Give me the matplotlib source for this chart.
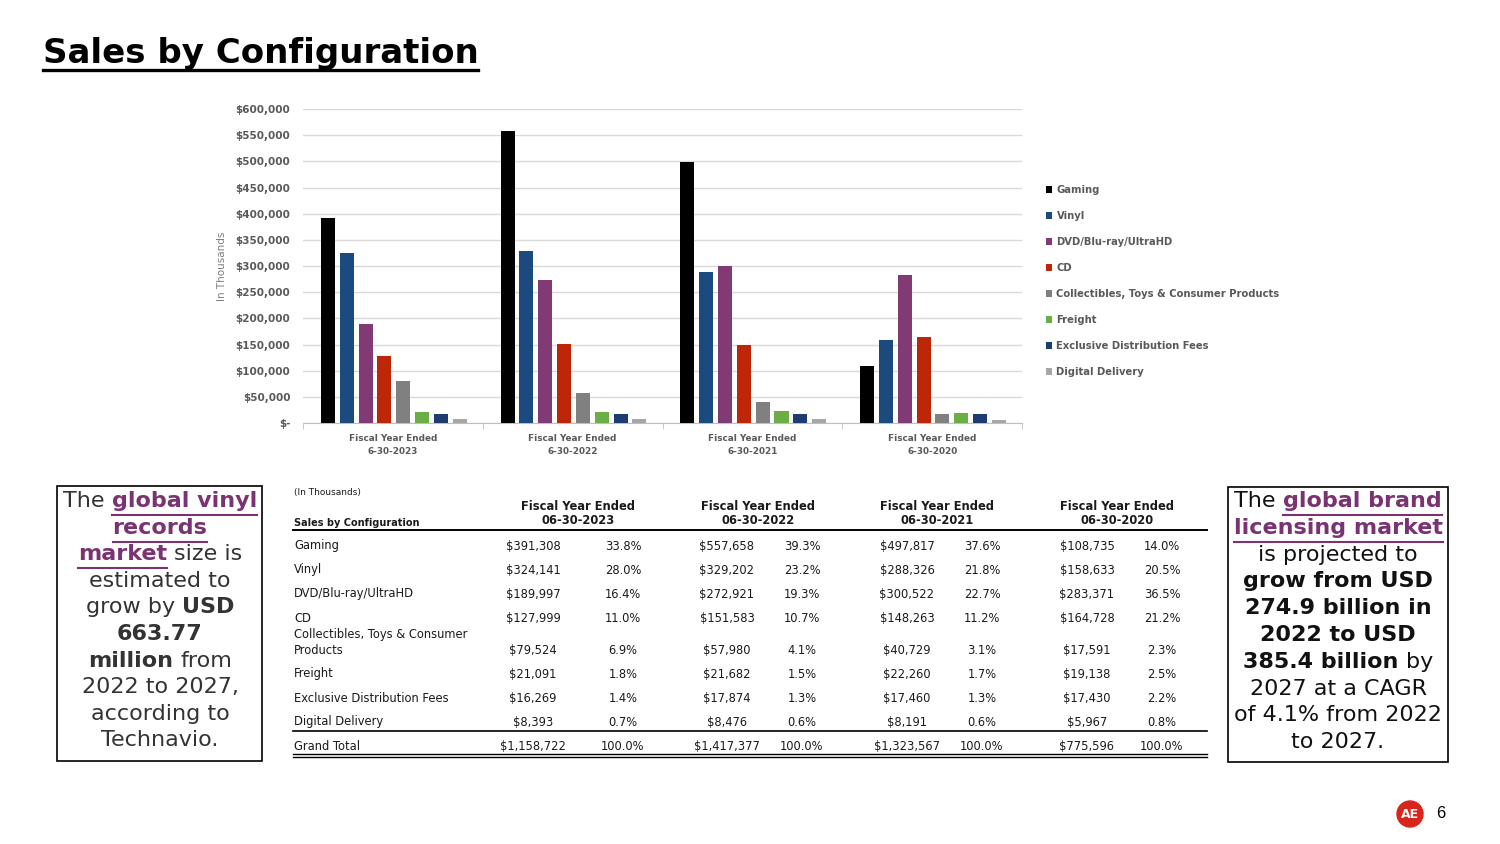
import matplotlib
matplotlib.use('Agg')
import matplotlib.pyplot as plt
from matplotlib.lines import Line2D
from matplotlib.patches import Rectangle, Ellipse
import numpy as np

plt.rcParams['font.family'] = ['DejaVu Sans']

W, H = 1500, 844

# ---- data ----
years = ['2023', '2022', '2021', '2020']
categories = ['Gaming', 'Vinyl', 'DVD/Blu-ray/UltraHD', 'CD',
              'Collectibles, Toys & Consumer Products', 'Freight',
              'Exclusive Distribution Fees', 'Digital Delivery']
sales_2023 = [391308, 324141, 189997, 127999, 79524, 21091, 16269, 8393]
sales_2022 = [557658, 329202, 272921, 151583, 57980, 21682, 17874, 8476]
sales_2021 = [497817, 288326, 300522, 148263, 40729, 22260, 17460, 8191]
sales_2020 = [108735, 158633, 283371, 164728, 17591, 19138, 17430, 5967]
pct_2023 = ['33.8%', '28.0%', '16.4%', '11.0%', '6.9%', '1.8%', '1.4%', '0.7%']
pct_2022 = ['39.3%', '23.2%', '19.3%', '10.7%', '4.1%', '1.5%', '1.3%', '0.6%']
pct_2021 = ['37.6%', '21.8%', '22.7%', '11.2%', '3.1%', '1.7%', '1.3%', '0.6%']
pct_2020 = ['14.0%', '20.5%', '36.5%', '21.2%', '2.3%', '2.5%', '2.2%', '0.8%']
totals = [1158722, 1417377, 1323567, 775596]
colors = ['#000000', '#1b4a7e', '#823a75', '#be2608', '#808080',
          '#6cae46', '#1f3c72', '#a6a6a6']

sales = [sales_2023, sales_2022, sales_2021, sales_2020]
pcts = [pct_2023, pct_2022, pct_2021, pct_2020]

purple = '#7a3372'
dark = '#333333'


def fx(x):
    return x / W


def fy(y):
    return 1 - y / H


fig = plt.figure(figsize=(15, 8.44), dpi=100)
fig.patch.set_facecolor('white')

# ---- title ----
fig.text(fx(43), fy(63), 'Sales by Configuration', fontsize=24.5, fontweight='bold',
         color='black', va='baseline', ha='left')
fig.add_artist(Line2D([fx(43), fx(478)], [fy(70), fy(70)], color='black', lw=2.4))

# ---- bar chart ----
ax = fig.add_axes([fx(303), fy(423), fx(1022) - fx(303), (423 - 109) / H])
x = np.arange(len(years))
pitch = 0.1047
width = 0.078
bars = []
for j, cat in enumerate(categories):
    vals = [s[j] for s in sales]
    b = ax.bar(x + (j - 3.5) * pitch + 0.005, vals, width=width, color=colors[j], label=cat, zorder=3)
    bars.append(b)

ax.set_xlim(-0.5, 3.5)
ax.set_ylim(0, 600000)
yt = np.arange(0, 600001, 50000)
ax.set_yticks(yt)
ax.set_yticklabels(['$-' if v == 0 else '${:,.0f}'.format(v) for v in yt],
                   fontsize=7.5, fontweight='bold', color='#595959')
ax.tick_params(axis='y', length=0, pad=9)
ax.grid(axis='y', color='#d9d9d9', lw=1, zorder=0)
ax.set_xticks(x)
ax.set_xticklabels(['Fiscal Year Ended\n6-30-' + y for y in years], fontsize=6.4,
                   fontweight='bold', color='#595959', linespacing=1.5)
ax.tick_params(axis='x', length=0, pad=8)
ax.set_xticks(np.arange(-0.5, 4, 1), minor=True)
ax.tick_params(axis='x', which='minor', length=4, color='#bfbfbf')
for s in ['top', 'right', 'left']:
    ax.spines[s].set_visible(False)
ax.spines['bottom'].set_color('#bfbfbf')

fig.text(fx(222), fy(266), 'In Thousands', rotation=90, fontsize=7.5, color='#7f7f7f',
         va='center', ha='center')

ax.legend(handles=bars, loc='upper left', bbox_to_anchor=(fx(1046), fy(185)),
          bbox_transform=fig.transFigure, frameon=False,
          prop={'size': 7.2, 'weight': 'bold'}, labelcolor='#595959',
          handlelength=0.6, handleheight=0.6, handletextpad=0.45,
          labelspacing=1.6, borderaxespad=0, borderpad=0)

# ---- table ----
tc = '#1a1a1a'
val_x = [533, 727, 907, 1087]
pct_x = [623, 802, 982, 1162]
head_x = [578, 758, 937, 1117]
row_y = [546, 570, 594, 618, 650, 674, 698, 722]
fs = 8.3

fig.text(fx(294), fy(493), '(In Thousands)', fontsize=6.5, color=tc, va='center')
fig.text(fx(294), fy(523), 'Sales by Configuration', fontsize=7, fontweight='bold', color=tc, va='center')
for k, yr in enumerate(years):
    fig.text(fx(head_x[k]), fy(514), 'Fiscal Year Ended\n06-30-' + yr, fontsize=8.3,
             fontweight='bold', color=tc, ha='center', va='center', linespacing=1.1)
for i, cat in enumerate(categories):
    label = cat
    ly = row_y[i]
    if cat.startswith('Collectibles'):
        label = 'Collectibles, Toys & Consumer\nProducts'
        ly = 642.5
    fig.text(fx(294), fy(ly), label, fontsize=fs, color=tc, va='center', linespacing=1.25)
    for k in range(4):
        fig.text(fx(val_x[k]), fy(row_y[i]), '${:,.0f}'.format(sales[k][i]), fontsize=fs,
                 color=tc, ha='center', va='center')
        fig.text(fx(pct_x[k]), fy(row_y[i]), pcts[k][i], fontsize=fs,
                 color=tc, ha='center', va='center')
fig.text(fx(294), fy(746), 'Grand Total', fontsize=fs, color=tc, va='center')
for k in range(4):
    fig.text(fx(val_x[k]), fy(746), '${:,.0f}'.format(totals[k]), fontsize=fs,
             color=tc, ha='center', va='center')
    fig.text(fx(pct_x[k]), fy(746), '100.0%', fontsize=fs, color=tc, ha='center', va='center')

for yy, lw in [(530, 1.4), (731, 1.2), (754, 1.0), (757, 1.0)]:
    fig.add_artist(Line2D([fx(293), fx(1207)], [fy(yy), fy(yy)], color='black', lw=lw))

# ---- side boxes ----
renderer = fig.canvas.get_renderer()


def text_width(s, size, weight):
    t = fig.text(0, 0, s, fontsize=size, fontweight=weight)
    w = t.get_window_extent(renderer).width
    t.remove()
    return w


def rich_line(xc, yb, parts, size, base_color):
    items = []
    for s, style in parts:
        weight = 'bold' if style in ('link', 'bold') else 'normal'
        color = purple if style == 'link' else base_color
        t = fig.text(0, fy(yb), s, fontsize=size, fontweight=weight, color=color,
                     va='baseline', ha='left')
        items.append((t, style, t.get_window_extent(renderer).width, weight))
    gap = text_width('a a', size, 'normal') - text_width('aa', size, 'normal')
    total = sum(it[2] for it in items) + gap * (len(items) - 1)
    xx = xc - total / 2
    for t, style, w, weight in items:
        t.set_x(fx(xx))
        if style == 'link':
            fig.add_artist(Line2D([fx(xx), fx(xx + w)], [fy(yb + 8), fy(yb + 8)],
                                  color=purple, lw=1.5))
        xx += w + gap


left_lines = [
    [('The', 'n'), ('global vinyl', 'link')],
    [('records', 'link')],
    [('market', 'link'), ('size is', 'n')],
    [('estimated to', 'n')],
    [('grow by', 'n'), ('USD', 'bold')],
    [('663.77', 'bold')],
    [('million', 'bold'), ('from', 'n')],
    [('2022 to 2027,', 'n')],
    [('according to', 'n')],
    [('Technavio.', 'n')],
]
right_lines = [
    [('The', 'n'), ('global brand', 'link')],
    [('licensing market', 'link')],
    [('is projected to', 'n')],
    [('grow from USD', 'bold')],
    [('274.9 billion in', 'bold')],
    [('2022 to USD', 'bold')],
    [('385.4 billion', 'bold'), ('by', 'n')],
    [('2027 at a CAGR', 'n')],
    [('of 4.1% from 2022', 'n')],
    [('to 2027.', 'n')],
]
for i, parts in enumerate(left_lines):
    rich_line(160, 507 + i * 26.6, parts, 16, dark)
for i, parts in enumerate(right_lines):
    rich_line(1338, 507 + i * 26.8, parts, 16, '#111111')

fig.add_artist(Rectangle((fx(57), fy(761)), fx(262) - fx(57), (761 - 486) / H,
                         transform=fig.transFigure, fill=False, ec='black', lw=1.2))
fig.add_artist(Rectangle((fx(1228), fy(762)), fx(1448) - fx(1228), (762 - 487) / H,
                         transform=fig.transFigure, fill=False, ec='black', lw=1.2))

# ---- logo and page number ----
fig.add_artist(Ellipse((fx(1410), fy(814)), 26 / W, 26 / H, transform=fig.transFigure,
                       color='#d8261c'))
fig.text(fx(1410), fy(814), 'AE', fontsize=9, fontweight='bold', color='white',
         ha='center', va='center')
fig.text(fx(1441), fy(813), '6', fontsize=12, color='black', ha='center', va='center',
         family='Liberation Sans')

fig.savefig('out.png', dpi=100)
